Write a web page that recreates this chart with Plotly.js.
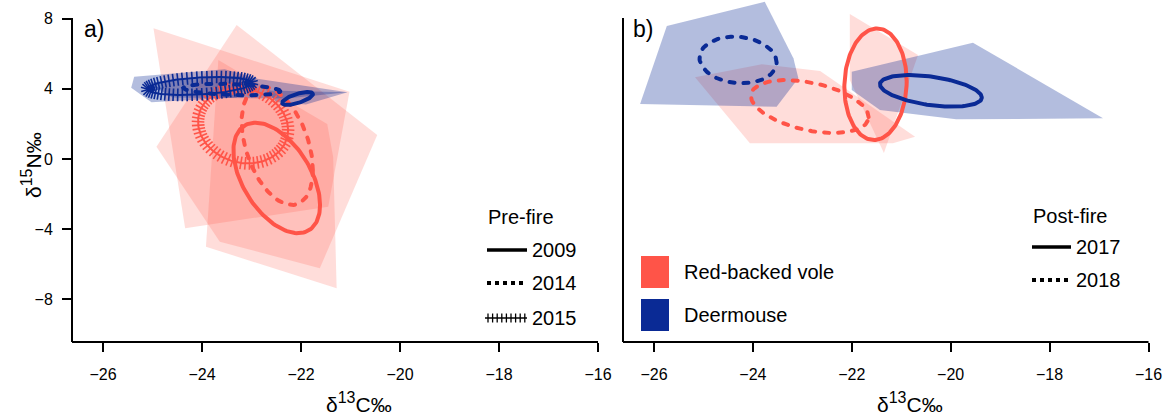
<!DOCTYPE html>
<html>
<head>
<meta charset="utf-8">
<script src="https://cdn.plot.ly/plotly-3.0.1.min.js"></script>
<style>
  html, body { margin: 0; padding: 0; background: #fff; }
  #chart { width: 1165px; height: 417px; }
  .round-cap .js-line { stroke-linecap: round; }
</style>
</head>
<body>
<div id="chart"></div>
<script>
// ---------------- DATA ----------------
// Panel a (pre-fire): convex hulls (x = d13C, y = d15N)
const voleHullA2009X = [-24.98, -21.02, -21.45, -24.34];
const voleHullA2009Y = [7.45, 3.83, -2.72, -3.95];
const voleHullA2014X = [-23.67, -21.47, -21.35, -21.28, -23.92];
const voleHullA2014Y = [5.64, 1.99, 0.11, -7.37, -5.00];
const voleHullA2015X = [-23.30, -20.46, -21.62, -23.64, -24.92];
const voleHullA2015Y = [7.64, 1.37, -6.23, -4.71, 0.70];
const mouseHullA2009X = [-22.70, -21.06, -21.90, -22.50];
const mouseHullA2009Y = [3.90, 3.80, 3.10, 3.25];
const mouseHullA2014X = [-25.10, -23.30, -21.06, -22.30, -24.60];
const mouseHullA2014Y = [4.35, 4.75, 3.80, 3.45, 3.50];
const mouseHullA2015X = [-25.37, -23.54, -22.89, -23.30, -25.02, -25.43];
const mouseHullA2015Y = [4.69, 5.11, 4.60, 3.50, 3.23, 4.06];

// Panel b (post-fire): convex hulls
const voleHullB2017X = [-22.04, -20.66, -21.35, -22.04];
const voleHullB2017Y = [8.26, 5.93, 0.34, 4.50];
const voleHullB2018X = [-25.17, -23.82, -22.64, -20.72, -21.17, -24.06];
const voleHullB2018Y = [4.66, 5.40, 5.01, 1.27, 0.89, 0.89];
const mouseHullB2017X = [-22.00, -19.55, -16.92, -19.89, -21.43, -22.00];
const mouseHullB2017Y = [4.97, 6.63, 2.32, 2.26, 2.79, 3.93];
const mouseHullB2018X = [-25.74, -23.76, -23.18, -23.08, -23.52, -26.28];
const mouseHullB2018Y = [7.58, 8.96, 5.74, 4.60, 2.98, 3.13];

// Standard ellipses: [centre x, centre y, half x-extent, half y-extent, correlation]
const voleEllA2009 = [-22.49, -1.08, 0.875, 3.15, -0.49];
const voleEllA2014 = [-22.48, 0.75, 0.72, 3.37, -0.41];
const voleEllA2015 = [-23.17, 1.89, 0.91, 2.14, -0.11];
const mouseEllA2009 = [-22.07, 3.45, 0.31, 0.37, 0.68];
const mouseEllA2014 = [-23.40, 3.96, 0.98, 0.33, -0.30];
const mouseEllA2015 = [-24.05, 4.16, 1.06, 0.51, 0.33];
const voleEllB2017 = [-21.52, 4.26, 0.63, 3.18, 0.05];
const voleEllB2018 = [-22.85, 2.99, 1.19, 1.51, -0.40];
const mouseEllB2017 = [-20.40, 3.88, 1.03, 0.90, -0.42];
const mouseEllB2018 = [-24.30, 5.64, 0.78, 1.33, -0.10];

// Axis ticks and labels
const xTicks = [-26, -24, -22, -20, -18, -16];
const yTicks = [-8, -4, 0, 4, 8];
const preYears = ['2009', '2014', '2015'];
const postYears = ['2017', '2018'];
const species = ['Red-backed vole', 'Deermouse'];

// ---------------- STYLE ----------------
const RED = '#FF5448';
const BLUE = '#0A2A95';
const RED_FILL = 'rgba(255,84,72,0.2)';
const BLUE_FILL = 'rgba(10,42,149,0.31)';
const FONT = 'Liberation Sans, Arial, sans-serif';
const W = 1165, H = 417;
const px = v => v / W;
const py = v => 1 - v / H;

function ellipse(e, n) {
  const [cx, cy, sx, sy, r] = e;
  const phi = Math.acos(r);
  const xs = [], ys = [];
  for (let i = 0; i <= n; i++) {
    const t = 2 * Math.PI * i / n;
    xs.push(cx + sx * Math.cos(t));
    ys.push(cy + sy * Math.cos(t - phi));
  }
  return [xs, ys];
}

const traces = [];
function hull(X, Y, fill, ax) {
  traces.push({
    x: X.concat([X[0]]), y: Y.concat([Y[0]]), xaxis: ax[0], yaxis: ax[1],
    type: 'scatter', mode: 'lines', fill: 'toself', fillcolor: fill,
    line: { width: 0, color: fill }, hoverinfo: 'skip', showlegend: false
  });
}
function ell(e, color, style, ax) {
  const [xs, ys] = ellipse(e, 160);
  if (style === 'hatch') {
    traces.push({
      x: xs, y: ys, xaxis: ax[0], yaxis: ax[1], type: 'scatter', mode: 'lines',
      line: { color: color, width: 2 }, hoverinfo: 'skip', showlegend: false
    });
    const [mx, my] = ellipse(e, 66);
    traces.push({
      x: mx, y: my, xaxis: ax[0], yaxis: ax[1], type: 'scatter', mode: 'markers',
      marker: { symbol: 'line-ew', size: 9, angleref: 'previous', color: color,
                line: { color: color, width: 1.6 } },
      hoverinfo: 'skip', showlegend: false
    });
  } else {
    traces.push({
      x: xs, y: ys, xaxis: ax[0], yaxis: ax[1], type: 'scatter', mode: 'lines',
      line: { color: color, width: 4, dash: style === 'dash' ? '5px,9px' : 'solid' },
      hoverinfo: 'skip', showlegend: false
    });
  }
}

const A = ['x', 'y'], B = ['x2', 'y2'];
hull(voleHullA2009X, voleHullA2009Y, RED_FILL, A);
hull(voleHullA2014X, voleHullA2014Y, RED_FILL, A);
hull(voleHullA2015X, voleHullA2015Y, RED_FILL, A);
hull(mouseHullA2009X, mouseHullA2009Y, BLUE_FILL, A);
hull(mouseHullA2014X, mouseHullA2014Y, BLUE_FILL, A);
hull(mouseHullA2015X, mouseHullA2015Y, BLUE_FILL, A);
hull(voleHullB2017X, voleHullB2017Y, RED_FILL, B);
hull(voleHullB2018X, voleHullB2018Y, RED_FILL, B);
hull(mouseHullB2017X, mouseHullB2017Y, BLUE_FILL, B);
hull(mouseHullB2018X, mouseHullB2018Y, BLUE_FILL, B);

ell(voleEllA2009, RED, 'solid', A);
ell(voleEllA2014, RED, 'dash', A);
ell(voleEllA2015, RED, 'hatch', A);
ell(mouseEllA2009, BLUE, 'solid', A);
ell(mouseEllA2014, BLUE, 'dash', A);
ell(mouseEllA2015, BLUE, 'hatch', A);
ell(voleEllB2017, RED, 'solid', B);
ell(voleEllB2018, RED, 'dash', B);
ell(mouseEllB2017, BLUE, 'solid', B);
ell(mouseEllB2018, BLUE, 'dash', B);

// ---------------- LAYOUT ----------------
const yDom = [1 - 342 / H, 1];
const yRange = [-10.43, 9.06];
const axBase = {
  showgrid: false, zeroline: false, showline: false,
  ticks: 'outside', ticklen: 9, tickwidth: 2, tickcolor: '#000',
  tickfont: { family: FONT, size: 16, color: '#000' }
};
const layout = {
  width: W, height: H,
  margin: { l: 0, r: 0, t: 0, b: 0 },
  paper_bgcolor: '#fff', plot_bgcolor: 'rgba(0,0,0,0)',
  showlegend: false,
  font: { family: FONT, color: '#000' },
  xaxis: Object.assign({}, axBase, { domain: [px(72), px(598)], range: [-26.626, -16], tickvals: xTicks, anchor: 'y', ticklabelstandoff: 9 }),
  yaxis: Object.assign({}, axBase, { domain: yDom, range: yRange, tickvals: yTicks, anchor: 'x', ticklabelstandoff: 6 }),
  xaxis2: Object.assign({}, axBase, { domain: [px(623), px(1148.5)], range: [-26.626, -16], tickvals: xTicks, anchor: 'y2', ticklabelstandoff: 9 }),
  yaxis2: Object.assign({}, axBase, { domain: yDom, range: yRange, tickvals: yTicks, anchor: 'x2', ticks: '', showticklabels: false }),
  shapes: [],
  annotations: []
};

function line(x0, y0, x1, y1, w, dash) {
  layout.shapes.push({ type: 'line', xref: 'paper', yref: 'paper',
    x0: px(x0), y0: py(y0), x1: px(x1), y1: py(y1),
    line: { color: '#000', width: w, dash: dash || 'solid' } });
}
function text(t, x, y, size, xanchor) {
  layout.annotations.push({ text: t, xref: 'paper', yref: 'paper', x: px(x), y: py(y),
    xanchor: xanchor || 'left', yanchor: 'middle', showarrow: false,
    font: { family: FONT, size: size, color: '#000' } });
}

// axis lines (L-shaped box)
line(72, 18, 72, 342, 2);
line(72, 342, 598, 342, 2);
line(623, 18, 623, 342, 2);
line(623, 342, 1148.5, 342, 2);

// panel labels
text('a)', 82, 29, 23);
text('b)', 631, 29, 23);

// axis titles
const xTitle = 'δ<sup><span style="font-size:16px">13</span></sup>C‰';
text(xTitle, 359, 402, 21, 'center');
text(xTitle, 910, 402, 21, 'center');
layout.annotations.push({ text: 'δ<sup><span style="font-size:16px">15</span></sup>N‰', xref: 'paper', yref: 'paper',
  x: px(31), y: py(165), textangle: -90, showarrow: false, xanchor: 'center', yanchor: 'middle',
  font: { family: FONT, size: 21, color: '#000' } });

// Pre-fire legend
text('Pre-fire', 486, 217, 20);
line(487, 250, 527, 250, 3.5);
text(preYears[0], 530, 250, 20);
line(487, 283, 527, 283, 4, 'dot');
text(preYears[1], 530, 283, 20);
line(485, 318, 527, 318, 1.5);
for (let xx = 488; xx <= 525; xx += 4.6) line(xx, 313.5, xx, 322.5, 1.3);
text(preYears[2], 530, 318, 20);

// Post-fire legend
text('Post-fire', 1031, 216, 20);
line(1032, 247, 1071, 247, 3.5);
text(postYears[0], 1074, 247, 20);
line(1032, 280, 1071, 280, 4, 'dot');
text(postYears[1], 1074, 280, 20);

// species legend
layout.shapes.push({ type: 'rect', xref: 'paper', yref: 'paper', x0: px(641), x1: px(669), y0: py(288), y1: py(256),
  fillcolor: RED, line: { width: 0 } });
layout.shapes.push({ type: 'rect', xref: 'paper', yref: 'paper', x0: px(641), x1: px(669), y0: py(331), y1: py(299),
  fillcolor: BLUE, line: { width: 0 } });
text(species[0], 682, 272, 20);
text(species[1], 682, 315, 20);

Plotly.newPlot('chart', traces, layout, { staticPlot: true, displayModeBar: false }).then(() => {
  document.getElementById('chart').classList.add('round-cap');
});
</script>
</body>
</html>
